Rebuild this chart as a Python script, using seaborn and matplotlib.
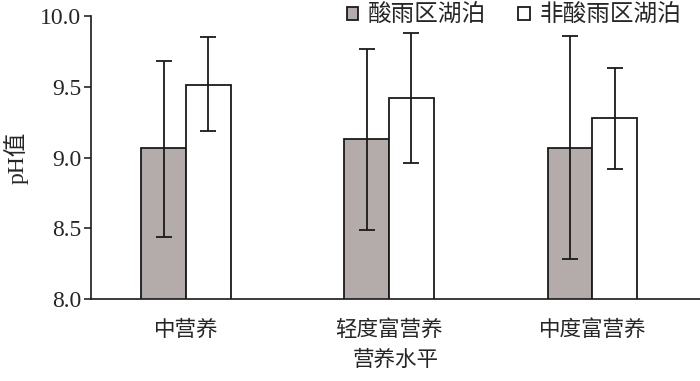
import numpy as np
import pandas as pd
import matplotlib
matplotlib.use('Agg')
import matplotlib.pyplot as plt
import seaborn as sns

## =============================== ##
## data

levels = ['中营养', '轻度富营养', '中度富营养']
groups = ['酸雨区湖泊', '非酸雨区湖泊']

ph_acid = [9.07, 9.13, 9.07]
ph_acid_lo = [8.44, 8.49, 8.28]
ph_acid_hi = [9.68, 9.77, 9.86]

ph_non = [9.51, 9.42, 9.28]
ph_non_lo = [9.19, 8.96, 8.92]
ph_non_hi = [9.85, 9.88, 9.63]

yticks = [8.0, 8.5, 9.0, 9.5, 10.0]

## =============================== ##

df = pd.DataFrame({
    'level': levels * 2,
    'group': [groups[0]] * 3 + [groups[1]] * 3,
    'ph': ph_acid + ph_non,
})
lows = [ph_acid_lo, ph_non_lo]
highs = [ph_acid_hi, ph_non_hi]

sns.set_style('ticks')
plt.rcParams['font.family'] = ['Liberation Serif', 'Noto Sans CJK SC', 'DejaVu Sans']

fig = plt.figure(figsize=(7, 3.81), dpi=100)
ax = fig.add_axes([0.13, 0.215, 0.87, 0.743])

sns.barplot(ax=ax, data=df, x='level', y='ph', hue='group', order=levels, hue_order=groups,
            palette=['#b4acab', '#ffffff'], edgecolor='#1a1a1a', linewidth=1.3,
            width=0.44, errorbar=None, saturation=1)

bar_conts = list(ax.containers)
for i, cont in enumerate(bar_conts):
    xs = [b.get_x() + b.get_width() / 2. for b in cont.patches]
    means = np.array([b.get_y() + b.get_height() for b in cont.patches])
    yerr = [means - np.array(lows[i]), np.array(highs[i]) - means]
    ax.errorbar(xs, means, yerr=yerr, fmt='none', ecolor='#1a1a1a', elinewidth=1.3,
                capsize=6, capthick=1.3)

ax.set_ylim(8.0, 10.0)
ax.set_xlim(-0.467, 2.53)
ax.set_yticks(yticks)
ax.set_yticklabels(['%.1f' % t for t in yticks], fontsize=17)
ax.tick_params(axis='y', direction='out', length=5, width=1.2, pad=2)
ax.tick_params(axis='x', length=0, labelsize=15.5, pad=14)
for lab in ax.get_xticklabels():
    lab.set_fontfamily(['Noto Sans CJK SC'])
ax.set_ylabel('pH值', fontsize=17, labelpad=8)
ax.set_xlabel('营养水平', fontsize=15.5, labelpad=7)
sns.despine(ax=ax, top=True, right=True)
for s in ['left', 'bottom']:
    ax.spines[s].set_linewidth(1.2)
    ax.spines[s].set_color('#1a1a1a')

handles, labels = ax.get_legend_handles_labels()
ax.legend(handles, labels, ncol=2, frameon=False, loc='upper right',
          bbox_to_anchor=(0.97, 1.04), fontsize=17, handlelength=0.5, handleheight=0.5,
          handletextpad=0.42, columnspacing=1.35, borderaxespad=0, borderpad=0)

fig.savefig('out.png', dpi=100)
